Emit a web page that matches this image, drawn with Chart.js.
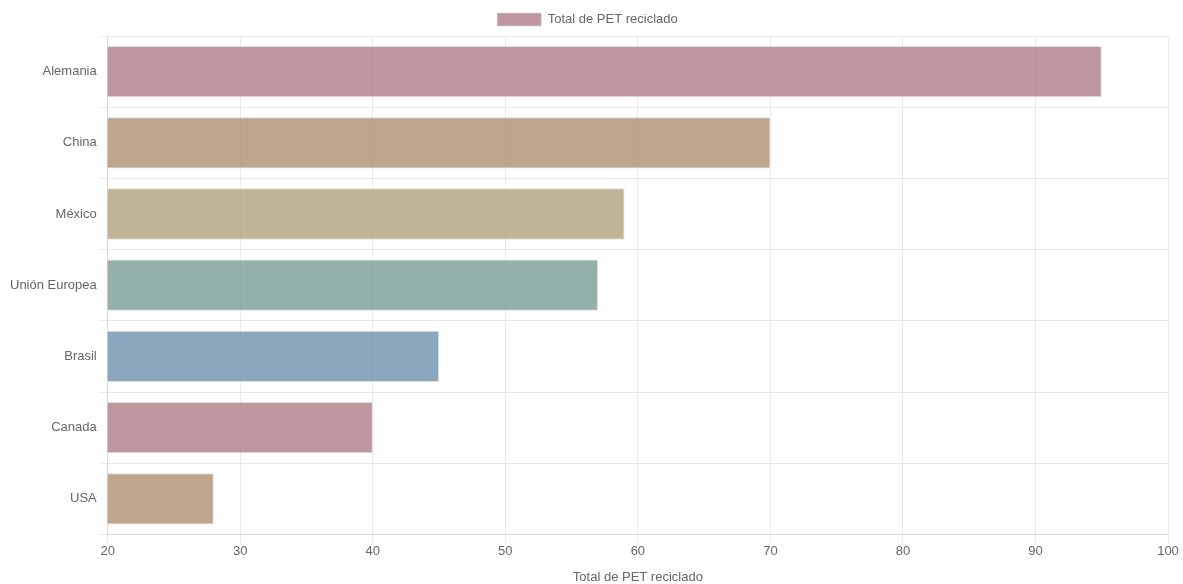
<!DOCTYPE html>
<html>
<head>
<meta charset="utf-8">
<script src="https://cdn.jsdelivr.net/npm/chart.js@4/dist/chart.umd.min.js"></script>
<style>
  html, body { margin: 0; padding: 0; background: #fff; }
  #wrap { width: 1183px; height: 584px; }
</style>
</head>
<body>
<div id="wrap"><canvas id="petChart"></canvas></div>
<script>
var paises = ['Alemania', 'China', 'México', 'Unión Europea', 'Brasil', 'Canada', 'USA'];
var totalReciclado = [95, 70, 59, 57, 45, 40, 28];
var colores = [
    "rgba(175, 122, 134, 0.8)",
    "rgba(175, 142, 111, 0.8)",
    "rgba(175, 162, 121, 0.8)",
    "rgba(121, 156, 150, 0.8)",
    "rgba(109, 145, 173, 0.8)",
    "rgba(175, 122, 134, 0.8)",
    "rgba(175, 142, 111, 0.8)"
];

Chart.defaults.font.family = "'Liberation Sans', Arial, sans-serif";
Chart.defaults.font.size = 13;
Chart.defaults.color = '#666';

var ctx = document.getElementById('petChart');
var gridColor = 'rgba(0, 0, 0, 0.08)';

var myBarChart = new Chart(ctx, {
    type: 'bar',
    data: {
        labels: paises,
        datasets: [{
            label: 'Total de PET reciclado',
            data: totalReciclado,
            backgroundColor: colores,
            borderColor: 'rgba(210, 210, 210, 0.7)',
            borderWidth: 1
        }]
    },
    options: {
        indexAxis: 'y',
        responsive: true,
        maintainAspectRatio: false,
        animation: false,
        layout: { padding: { top: 3, right: 15, left: 7 } },
        plugins: {
            legend: {
                display: true,
                labels: { boxWidth: 44, boxHeight: 13 }
            }
        },
        scales: {
            x: {
                min: 20,
                max: 100,
                ticks: { stepSize: 10, padding: 1 },
                grid: { color: gridColor },
                border: { color: gridColor },
                title: {
                    display: true,
                    text: 'Total de PET reciclado',
                    font: { lineHeight: 1 },
                    padding: { top: 11, bottom: 0 }
                }
            },
            y: {
                grid: { color: gridColor },
                border: { color: gridColor }
            }
        }
    }
});
</script>
</body>
</html>
